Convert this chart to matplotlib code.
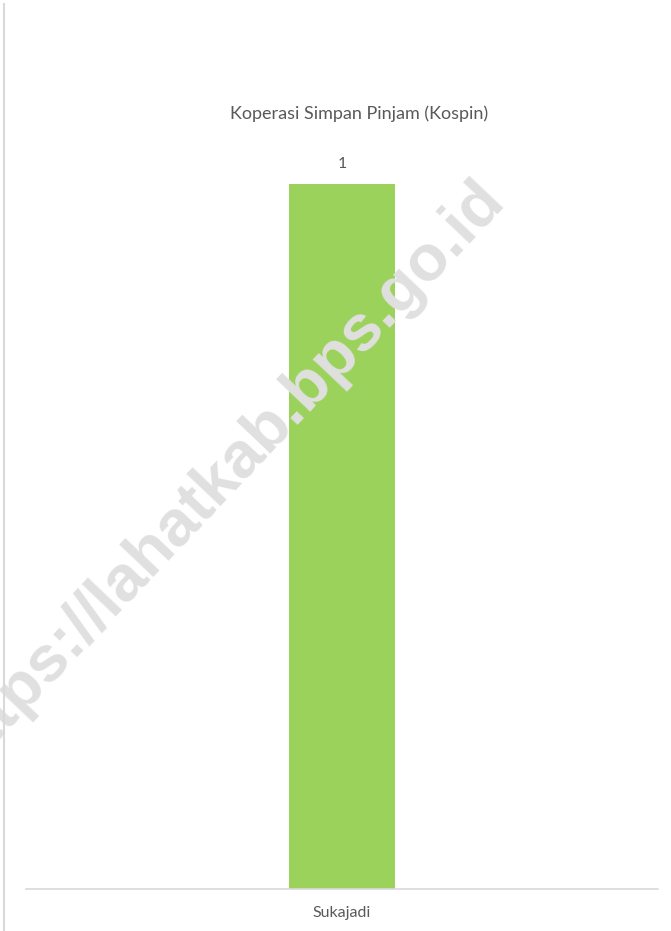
import matplotlib
matplotlib.use('Agg')
import matplotlib.pyplot as plt
from matplotlib.lines import Line2D

# data
kategori = ["Sukajadi"]
nilai = [1]
judul = "Koperasi Simpan Pinjam (Kospin)"
watermark = "https://lahatkab.bps.go.id"

plt.rcParams['font.family'] = ['Lato', 'DejaVu Sans']

fig = plt.figure(figsize=(6.71, 9.31), dpi=100)
ax = fig.add_axes([0.0387, 0.0451, 0.9419, 0.7573])

# watermark behind everything
fig.text(0.331, 0.49, watermark, rotation=46.5, fontsize=47, fontweight='bold',
         color='#e0e0e0', ha='center', va='center', family='Liberation Sans', zorder=0)
ax.set_facecolor('none')

x = list(range(len(kategori)))
ax.bar(x, nilai, width=0.168, color='#9bd25c', zorder=2)
for xi, v in zip(x, nilai):
    ax.text(xi, v + 0.018, str(v), ha='center', va='bottom', fontsize=11.5, color='#595959')

ax.set_xlim(-0.5, 0.5)
ax.set_ylim(0, 1)
ax.set_xticks(x)
ax.set_xticklabels(kategori, fontsize=11.5, color='#595959')
ax.tick_params(axis='x', length=0, pad=12)
ax.set_yticks([])
for s in ['top', 'right', 'left']:
    ax.spines[s].set_visible(False)
ax.spines['bottom'].set_color('#d9d9d9')
ax.spines['bottom'].set_linewidth(1.2)

fig.text(0.535, 1 - 114 / 931, judul, ha='center', va='center', fontsize=13, color='#595959')

# frame line on the left side
fig.add_artist(Line2D([0.0067, 0.0067], [0, 0.996], color='#d9d9d9', linewidth=1.5))

fig.savefig("out.png", dpi=100)
